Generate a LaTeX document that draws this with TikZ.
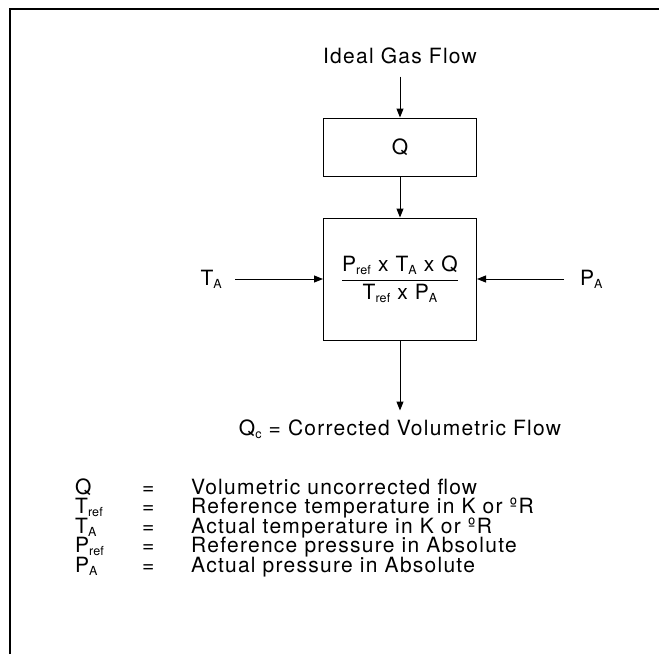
\documentclass[tikz,border=0pt]{standalone}
\usepackage{fontspec}
\setmainfont{TeX Gyre Heros}[LetterSpace=6]
\usetikzlibrary{arrows.meta, positioning}
\newcommand\lowsub[1]{\raisebox{-3pt}{\fontsize{12.5}{13}\selectfont\addfontfeature{LetterSpace=1}#1}}

\begin{document}
\begin{tikzpicture}[
    x=1pt, y=-1pt,
    font=\fontsize{21}{24}\selectfont,
    blk/.style={draw, line width=1pt, minimum width=153pt, inner sep=0pt},
    lbl/.style={inner sep=0pt},
    arr/.style={-{Triangle[length=9pt, width=7pt]}, line width=1pt},
]
\useasboundingbox (0,0) rectangle (659,654);

% --- Frame ---
\draw[line width=2.5pt] (10,654) -- (10,9) -- (659,9);

% --- Blocks ---
\node[blk, minimum height=58pt] (qbox) at (400,147) {Q};
\node[blk, minimum height=122pt, below=41pt of qbox] (corr)
    {$\displaystyle\frac{\mbox{P\lowsub{ref} x T\lowsub{A} x Q}}{\mbox{T\lowsub{ref} x P\lowsub{A}}}$};

% --- Labels ---
\node[lbl, anchor=base] (gas) at (400,63) {Ideal Gas Flow};
\node[lbl, left=101pt of corr.west] (ta) {T\lowsub{A}};
\node[lbl, right=103pt of corr.east] (pa) {P\lowsub{A}};
\node[lbl, below=79pt of corr] (qc) {Q\lowsub{c} = Corrected Volumetric Flow};

% --- Arrows ---
\draw[arr] ([yshift=-13pt]gas.south) -- (qbox);
\draw[arr] (qbox) -- (corr);
\draw[arr] ([xshift=13pt]ta.east) -- (ta.east -| corr.west);
\draw[arr] ([xshift=-16pt]pa.west) -- (pa.west -| corr.east);
\draw[arr, shorten >=9pt] (corr) -- (qc);

% --- Legend ---
\foreach \sym/\txt [count=\i] in {
    Q/Volumetric uncorrected flow,
    T\lowsub{ref}/Reference temperature in K or ºR,
    T\lowsub{A}/Actual temperature in K or ºR,
    P\lowsub{ref}/Reference pressure in Absolute,
    P\lowsub{A}/Actual pressure in Absolute} {
  \node[lbl, anchor=base west] (sym\i) at (75,{494+19.6*(\i-1)}) {\sym};
  \node[lbl, anchor=base west] (eq\i) at (142,{494+19.6*(\i-1)}) {=};
  \node[lbl, anchor=base west] (def\i) at (191,{494+19.6*(\i-1)}) {\txt};
}

\end{tikzpicture}
\end{document}
